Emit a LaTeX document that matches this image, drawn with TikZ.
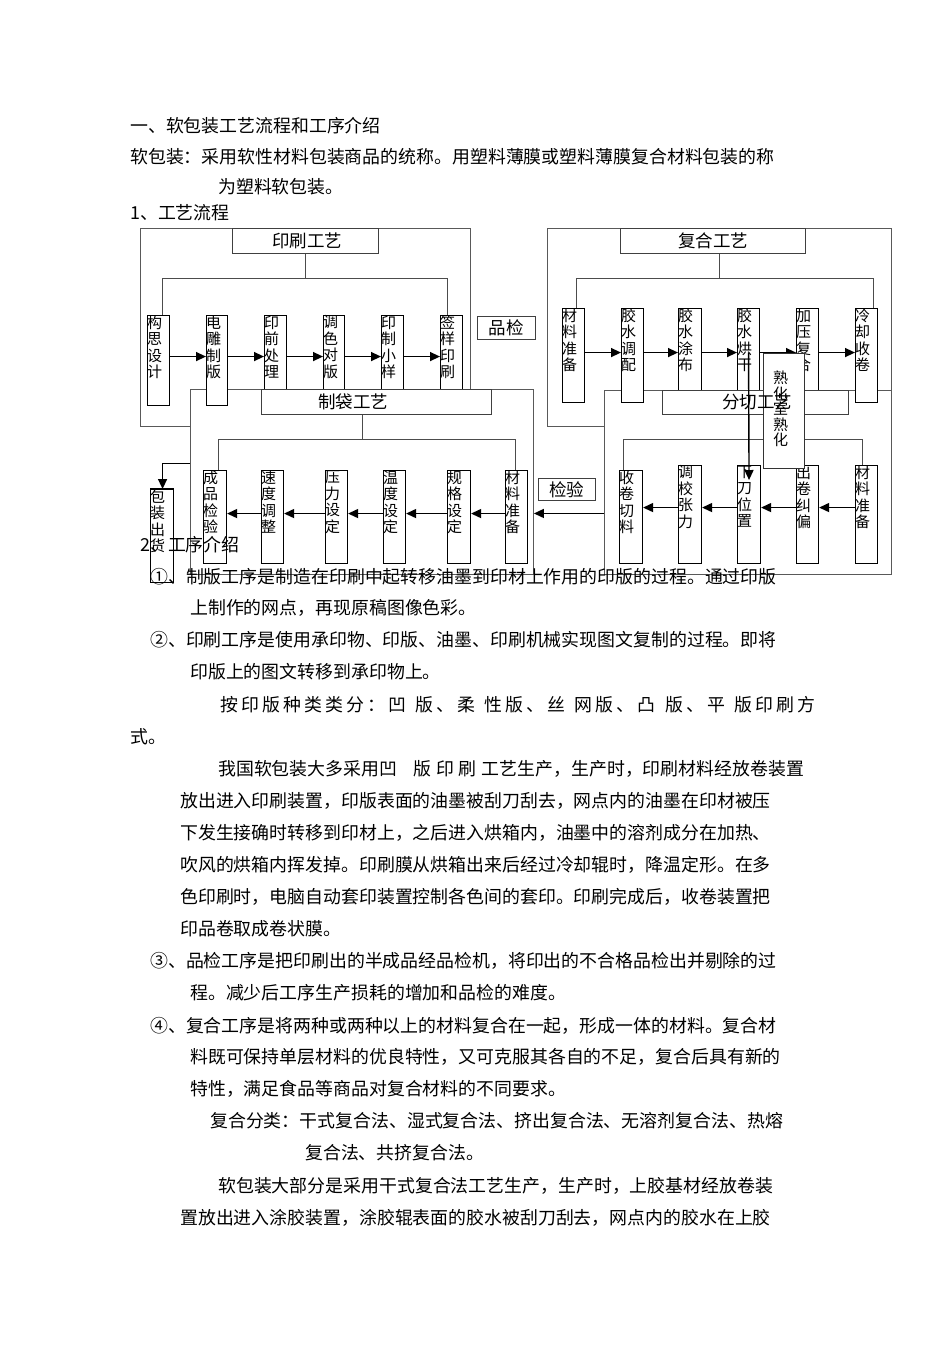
\documentclass[tikz,border=0pt]{standalone}
\usepackage{fontspec}
\newfontfamily\cjk{Noto Sans CJK SC}
\usetikzlibrary{arrows.meta,calc}
\newcommand{\mkstep}[6]{%
  \node[stepbox, minimum width=#4pt, minimum height=#5pt] (#1) at (#2,#3) {};
  \node[vtxt] (#1t) at ($(#1.north west)+(0,0.5)$) {#6};}
\newcommand{\rgtarr}[3]{\draw[arr] ($(#1.east)+(0,#3)$) -- ($(#1.east -| #2.west)+(0,#3)$);}
\newcommand{\lftarr}[3]{\draw[arr] ($(#1.west)+(0,#3)$) -- ($(#1.west -| #2.east)+(0,#3)$);}
\newcommand{\bodyline}[4]{\node[body] (#1) at (#2,#3) {#4};}
\begin{document}
\begin{tikzpicture}[x=1pt,y=-1pt,
  outer/.style={draw=black!65, line width=0.9pt, fill=white, inner sep=0pt, anchor=north west},
  titlebox/.style={draw=black!75, line width=0.9pt, fill=white, inner sep=0pt, anchor=north west},
  stepbox/.style={draw=black, line width=1.1pt, fill=white, inner sep=0pt, anchor=north west},
  vtxt/.style={inner sep=0pt, anchor=north west, align=left, font={\cjk\fontsize{15pt}{16.5pt}\selectfont}},
  ttxt/.style={inner sep=0pt, font={\cjk\fontsize{17.5pt}{20pt}\selectfont}},
  body/.style={inner sep=0pt, anchor=base west, font={\cjk\fontsize{17.9pt}{22pt}\selectfont}},
  conn/.style={draw=black!70, line width=0.9pt},
  arr/.style={draw=black, line width=1.4pt, -{Triangle[length=10pt,width=9pt]}}]
\fill[white] (0,0) rectangle (950,1345);
\useasboundingbox (0,0) rectangle (950,1345);

% outer frames
\node[outer, minimum width=330pt, minimum height=198pt] (yinbox) at (140,228) {};
\node[outer, minimum width=344pt, minimum height=198pt] (fubox) at (547,228) {};
\node[outer, minimum width=343pt, minimum height=185pt] (daibox) at (190,389) {};
\node[outer, minimum width=287pt, minimum height=184pt] (qiebox) at (604,390) {};

% upper titles
\node[titlebox, minimum width=146pt, minimum height=25pt] (yinT) at (232,228) {};
\node[titlebox, minimum width=185pt, minimum height=25pt] (fuT) at (620,228) {};

% printing row
\mkstep{yin1}{147}{315}{22}{90}{构\\思\\设\\计}
\mkstep{yin2}{206}{315}{21}{90}{电\\雕\\制\\版}
\mkstep{yin3}{264}{315}{22}{90}{印\\前\\处\\理}
\mkstep{yin4}{323}{315}{21}{90}{调\\色\\对\\版}
\mkstep{yin5}{381}{315}{22}{90}{印\\制\\小\\样}
\mkstep{yin6}{440}{315}{22}{90}{签\\样\\印\\刷}

% composite row
\mkstep{fu1}{562}{308}{22}{94}{材\\料\\准\\备}
\mkstep{fu2}{621}{308}{22}{94}{胶\\水\\调\\配}
\mkstep{fu3}{678}{308}{23}{94}{胶\\水\\涂\\布}
\mkstep{fu4}{737}{308}{22}{94}{胶\\水\\烘\\干}
\mkstep{fu5}{796}{308}{22}{94}{加\\压\\复\\合}
\mkstep{fu6}{855}{308}{22}{94}{冷\\却\\收\\卷}

% upper brackets
\draw[conn] (yinT.south) -- ++(0,25) -| ($(yin1.north)+(4,0)$);
\draw[conn] (yinT.south) -- ++(0,25) -| ($(yin6.north)+(-4,0)$);
\draw[conn] ($(fuT.south)+(6,0)$) -- ++(0,25) -| ($(fu1.north)+(3,0)$);
\draw[conn] ($(fuT.south)+(6,0)$) -- ++(0,25) -| ($(fu6.north)+(7,0)$);

% upper arrows
\rgtarr{yin1}{yin2}{-4}
\rgtarr{yin2}{yin3}{-4}
\rgtarr{yin3}{yin4}{-4}
\rgtarr{yin4}{yin5}{-4}
\rgtarr{yin5}{yin6}{-4}
\rgtarr{fu1}{fu2}{-3}
\rgtarr{fu2}{fu3}{-3}
\rgtarr{fu3}{fu4}{-3}
\rgtarr{fu4}{fu5}{-3}
\rgtarr{fu5}{fu6}{-3}

% lower titles
\node[titlebox, minimum width=230pt, minimum height=25pt] (daiT) at (261,389) {};
\node[titlebox, minimum width=186pt, minimum height=24pt] (qieT) at (662,390) {};

% bag making row
\mkstep{dai1}{203}{470}{23}{93}{成\\品\\检\\验}
\mkstep{dai2}{261}{470}{22}{93}{速\\度\\调\\整}
\mkstep{dai3}{325}{470}{22}{93}{压\\力\\设\\定}
\mkstep{dai4}{383}{470}{22}{93}{温\\度\\设\\定}
\mkstep{dai5}{447}{470}{23}{93}{规\\格\\设\\定}
\mkstep{dai6}{505}{470}{22}{93}{材\\料\\准\\备}

% slitting row
\mkstep{qie1}{619}{470}{23}{93}{收\\卷\\切\\料}
\mkstep{qie2}{678}{465}{23}{98}{调\\校\\张\\力}
\mkstep{qie3}{737}{465}{23}{98}{下\\刀\\位\\置}
\mkstep{qie4}{796}{465}{22}{98}{出\\卷\\纠\\偏}
\mkstep{qie5}{855}{465}{22}{98}{材\\料\\准\\备}

% lower brackets
\draw[conn] ($(daiT.south)+(-14,0)$) -- ++(0,25) -| ($(dai1.north)+(3.5,0)$);
\draw[conn] ($(daiT.south)+(-14,0)$) -- ++(0,25) -| ($(dai6.north)+(-1,0)$);
\draw[conn] ($(qie1.north)+(-7.5,0)$) -- ++(0,-31) -| ($(qie5.north)+(-4,0)$);

% lower arrows
\lftarr{dai6}{dai5}{-3.5}
\lftarr{dai5}{dai4}{-3.5}
\lftarr{dai4}{dai3}{-3.5}
\lftarr{dai3}{dai2}{-3.5}
\lftarr{dai2}{dai1}{-3.5}
\lftarr{qie5}{qie4}{-7}
\lftarr{qie4}{qie3}{-7}
\lftarr{qie3}{qie2}{-7}
\lftarr{qie2}{qie1}{-7}

% side boxes
\node[titlebox, minimum width=58pt, minimum height=23pt] (pinjian) at (477,316) {};
\node[titlebox, minimum width=57pt, minimum height=22pt] (jianyan) at (538,478) {};
\mkstep{bao}{150}{489}{23}{93}{包\\装\\出\\货}
\draw[line width=2.2pt] (bao.north west) -- (bao.north east);

% links between stages
\draw[arr] ($(qiebox.west)+(0,31)$) -- ($(qiebox.west -| daibox.east)+(0,31)$);
\draw[arr] ($(daibox.west)+(0,-18.5)$) -| ($(bao.north)+(0.5,0)$);

% curing box
\node[stepbox, draw=black!80, line width=1pt, minimum width=41pt, minimum height=115pt] (shuhua) at (763,353) {};
\draw[arr] ($(fu4.center)+(0,-3)$) -- ($(qie3.north)+(0,15)$);

% box texts
\node[ttxt] (yinTt) at (307,240.5) {印刷工艺};
\node[ttxt] (fuTt) at (713,240.5) {复合工艺};
\node[ttxt] (daiTt) at (353,401.5) {制袋工艺};
\node[ttxt] (qieTt) at (757,402) {分切工艺};
\node[ttxt] (pinjiant) at (pinjian.center) {品检};
\node[ttxt] (jianyant) at (jianyan.center) {检验};
\node[vtxt, font={\cjk\fontsize{15pt}{15.5pt}\selectfont}] (shuhuat) at (773,371) {熟\\化\\室\\熟\\化};

% page text
\bodyline{t1}{130}{132.5}{一、软包装工艺流程和工序介绍}
\bodyline{t2}{130}{163.5}{软包装：采用软性材料包装商品的统称。用塑料薄膜或塑料薄膜复合材料包装的称}
\bodyline{t3}{218}{193.5}{为塑料软包装。}
\bodyline{t4}{130}{219.5}{1、工艺流程}
\bodyline{t5}{140}{551.5}{2、工序介绍}
\bodyline{t6}{150}{583.5}{①、制版工序是制造在印刷中起转移油墨到印材上作用的印版的过程。通过印版}
\bodyline{t7}{190}{614.5}{上制作的网点，再现原稿图像色彩。}
\bodyline{t8}{150}{646.5}{②、印刷工序是使用承印物、印版、油墨、印刷机械实现图文复制的过程。即将}
\bodyline{t9}{190}{678.5}{印版上的图文转移到承印物上。}
\bodyline{t10}{220}{711.5}{\makebox[595pt][s]{按 印 版 种 类 类 分 ： 凹 ~ 版 、 柔 ~ 性 版 、 丝 ~ 网 版 、 凸 ~ 版 、 平 ~ 版 印 刷 方}}
\bodyline{t11}{130}{743.5}{式。}
\bodyline{t12}{218}{775.5}{我国软包装大多采用凹\hspace{16pt}版\hspace{5pt}印\hspace{5pt}刷\hspace{5pt}工艺生产，生产时，印刷材料经放卷装置}
\bodyline{t13}{180}{807.5}{放出进入印刷装置，印版表面的油墨被刮刀刮去，网点内的油墨在印材被压}
\bodyline{t14}{180}{839.5}{下发生接确时转移到印材上，之后进入烘箱内，油墨中的溶剂成分在加热、}
\bodyline{t15}{180}{871.5}{吹风的烘箱内挥发掉。印刷膜从烘箱出来后经过冷却辊时，降温定形。在多}
\bodyline{t16}{180}{903.5}{色印刷时，电脑自动套印装置控制各色间的套印。印刷完成后，收卷装置把}
\bodyline{t17}{180}{935.5}{印品卷取成卷状膜。}
\bodyline{t18}{150}{967.5}{③、品检工序是把印刷出的半成品经品检机，将印出的不合格品检出并剔除的过}
\bodyline{t19}{190}{999.5}{程。减少后工序生产损耗的增加和品检的难度。}
\bodyline{t20}{150}{1032.5}{④、复合工序是将两种或两种以上的材料复合在一起，形成一体的材料。复合材}
\bodyline{t21}{190}{1063.5}{料既可保持单层材料的优良特性，又可克服其各自的不足，复合后具有新的}
\bodyline{t22}{190}{1095.5}{特性，满足食品等商品对复合材料的不同要求。}
\bodyline{t23}{210}{1127.5}{复合分类：干式复合法、湿式复合法、挤出复合法、无溶剂复合法、热熔}
\bodyline{t24}{305}{1159.5}{复合法、共挤复合法。}
\bodyline{t25}{218}{1192.5}{软包装大部分是采用干式复合法工艺生产，生产时，上胶基材经放卷装}
\bodyline{t26}{180}{1224.5}{置放出进入涂胶装置，涂胶辊表面的胶水被刮刀刮去，网点内的胶水在上胶}
\end{tikzpicture}
\end{document}
